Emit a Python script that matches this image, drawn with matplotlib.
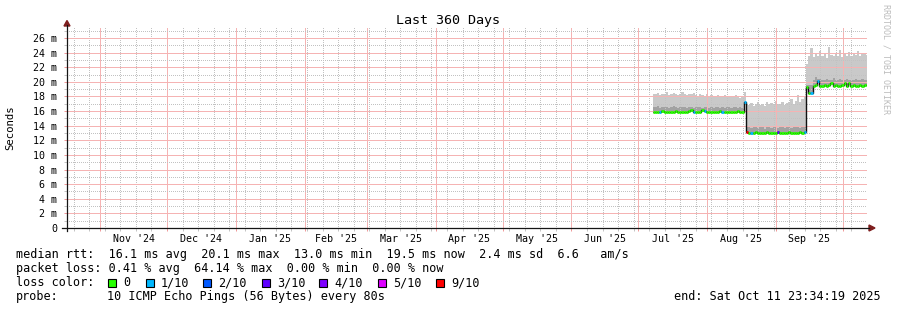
import datetime as dt
import numpy as np
import matplotlib
matplotlib.use("Agg")
import matplotlib.pyplot as plt
import matplotlib.dates as mdates
from matplotlib.lines import Line2D
from matplotlib.patches import Polygon, Rectangle

# ---------------- data ----------------
title = "Last 360 Days"
t_end = dt.datetime(2025, 10, 11, 23, 34, 19)
t_start = t_end - dt.timedelta(days=360)
data_start = dt.datetime(2025, 7, 7, 12, 0)   # one sample per day from here

# median rtt (ms)
med_seg1 = [15.9, 15.9, 15.85, 15.9, 15.95, 15.9, 15.9, 15.85, 15.9, 15.9, 15.95, 15.9, 15.85, 15.9,
            15.9, 15.9, 15.95, 16.2, 15.9, 15.85, 15.9, 15.9, 16.2, 15.95, 15.9, 15.9, 15.85, 15.9,
            15.9, 15.9, 15.95, 15.9, 15.9, 15.9, 15.85, 15.9, 15.9, 15.9, 15.95, 15.9, 15.9, 17.2]
med_seg2 = [13.1, 13.05, 13.0, 13.05, 13.1, 13.05, 13.0, 13.05, 13.05, 13.1, 13.0, 13.05, 13.05, 13.0,
            13.1, 13.05, 13.05, 13.0, 13.05, 13.1, 13.05, 13.0, 13.05, 13.05, 13.1, 13.05, 13.1]
med_seg3 = [19.3, 18.5, 18.5, 19.45, 19.5, 20.1, 19.45, 19.4, 19.5, 19.45, 19.5, 19.9, 19.45, 19.5,
            19.45, 19.4, 19.5, 19.9, 19.45, 19.9, 19.45, 19.5, 19.45, 19.4, 19.5, 19.45, 19.5, 19.5]

# upper edge of the darker smoke (ms)
mid_seg1 = [16.6, 16.5, 16.7, 16.4, 16.6, 16.5, 16.6, 16.4, 16.5, 16.7, 16.5, 16.4, 16.6, 16.5,
            16.6, 16.4, 16.5, 16.6, 16.4, 16.5, 16.5, 16.6, 16.4, 16.5, 16.6, 16.4, 16.5, 16.4,
            16.5, 16.6, 16.4, 16.5, 16.4, 16.6, 16.5, 16.4, 16.5, 16.6, 16.4, 16.5, 16.4, 17.3]
mid_seg2 = [13.9, 13.8, 13.7, 13.9, 13.8, 13.7, 13.9, 13.8, 13.6, 13.8, 13.9, 13.7, 13.8, 13.9,
            13.7, 13.8, 13.8, 13.7, 13.9, 13.8, 13.7, 13.9, 13.8, 13.8, 13.7, 13.9, 14.0]
mid_seg3 = [19.5, 19.6, 19.6, 20.3, 20.6, 20.4, 20.4, 20.3, 20.2, 20.4, 20.3, 20.2, 20.5, 20.3,
            20.2, 20.4, 20.3, 20.2, 20.4, 20.3, 20.3, 20.2, 20.4, 20.3, 20.2, 20.4, 20.3, 20.3]

# max ping (top of the smoke, ms)
top_seg1 = [18.4, 18.3, 18.5, 18.2, 18.4, 18.3, 18.6, 18.2, 18.3, 18.5, 18.4, 18.2, 18.3, 18.6,
            18.3, 18.2, 18.4, 18.3, 18.5, 18.2, 18.1, 18.3, 18.2, 18.0, 18.3, 18.1, 18.2, 17.9,
            18.0, 18.2, 18.1, 17.9, 18.2, 18.0, 18.1, 17.9, 18.0, 18.2, 18.1, 17.8, 18.0, 18.6]
top_seg2 = [17.0, 16.8, 17.1, 16.7, 16.9, 17.2, 16.8, 17.0, 16.7, 17.3, 16.9, 17.1, 16.8, 17.4,
            16.9, 17.0, 17.2, 16.8, 17.1, 17.3, 17.7, 17.0, 17.4, 18.2, 17.3, 17.6, 18.0]
top_seg3 = [22.5, 23.6, 24.6, 23.4, 23.8, 23.5, 24.2, 23.6, 23.9, 23.3, 24.7, 23.7, 23.5, 24.0,
            23.6, 24.3, 23.4, 23.8, 23.6, 24.1, 23.5, 23.9, 23.7, 24.2, 23.6, 23.8, 24.0, 23.7]

# lost pings out of 10
loss_seg1 = [0, 0, 0, 1, 0, 0, 0, 0, 0, 0, 0, 0, 0, 0, 0, 0, 0, 0, 1, 0, 0, 0, 0, 1, 0, 0, 0, 0,
             0, 0, 0, 1, 0, 0, 0, 0, 0, 0, 0, 0, 0, 1]
loss_seg2 = [9, 0, 1, 0, 0, 0, 0, 0, 0, 0, 0, 0, 0, 0, 3, 0, 0, 0, 0, 0, 0, 0, 0, 0, 0, 0, 1]
loss_seg3 = [0, 0, 1, 0, 0, 1, 0, 0, 0, 0, 0, 0, 0, 0, 0, 0, 0, 0, 0, 0, 0, 0, 0, 0, 0, 0, 0, 0]

loss_levels = [0, 1, 2, 3, 4, 5, 9]
loss_labels = ["0", "1/10", "2/10", "3/10", "4/10", "5/10", "9/10"]
loss_colors = ["#26ff00", "#00b8ff", "#0059ff", "#5e00ff", "#7e00ff", "#dd00ff", "#ff0000"]

y_ticks = list(range(0, 27, 2))
y_labels = ["0"] + [f"{v} m" for v in y_ticks[1:]]
month_starts = [dt.datetime(2024, m, 1) for m in (11, 12)] + \
               [dt.datetime(2025, m, 1) for m in range(1, 11)]
month_labels = ["Nov '24", "Dec '24", "Jan '25", "Feb '25", "Mar '25", "Apr '25",
                "May '25", "Jun '25", "Jul '25", "Aug '25", "Sep '25"]

stat_line1 = "median rtt:  16.1 ms avg  20.1 ms max  13.0 ms min  19.5 ms now  2.4 ms sd  6.6   am/s"
stat_line2 = "packet loss: 0.41 % avg  64.14 % max  0.00 % min  0.00 % now"
probe_text = "10 ICMP Echo Pings (56 Bytes) every 80s"

# ---------------- figure ----------------
W, H = 897, 310
MONO = "DejaVu Sans Mono"
plt.rcParams["font.family"] = MONO

fig = plt.figure(figsize=(W / 100, H / 100), dpi=100)
fig.patch.set_facecolor("white")


def fx(px):
    return px / W


def fy(py):
    return 1 - py / H


ax = fig.add_axes([fx(67), fy(228), 800 / W, 201 / H])
ax.set_facecolor("white")
ax.set_xlim(mdates.date2num(t_start), mdates.date2num(t_end))
ax.set_ylim(0, 27.5)
for s in ax.spines.values():
    s.set_visible(False)

med = np.array(med_seg1 + med_seg2 + med_seg3)
mid = np.array(mid_seg1 + mid_seg2 + mid_seg3)
top = np.array(top_seg1 + top_seg2 + top_seg3)
loss = np.array(loss_seg1 + loss_seg2 + loss_seg3)
n = len(med)
edges = mdates.date2num(data_start) + np.arange(n + 1)

# smoke
ax.stairs(top, edges, baseline=med - 0.1, fill=True, color="#c9c9c9", zorder=1)
ax.stairs(mid, edges, baseline=med - 0.1, fill=True, color="#a2a2a2", zorder=1.2)
# median: black step connections, then loss-colored segments
ax.stairs(med, edges, baseline=None, color="#111111", linewidth=1.0, zorder=3)
cmap = dict(zip(loss_levels, loss_colors))
seg_cols = [cmap.get(int(l), "#ff0000") for l in loss]
ax.hlines(med, edges[:-1], edges[1:], colors=seg_cols, linewidth=2.0, zorder=4)

# grid
ax.set_yticks(y_ticks)
ax.set_yticklabels(y_labels)
ax.set_yticks(np.arange(1, 28, 2), minor=True)
ax.set_xticks(mdates.date2num(month_starts))
ax.set_xticklabels([])
sundays = []
d = dt.datetime(2024, 10, 20)
while d < t_end:
    if d.day != 1:
        sundays.append(mdates.date2num(d))
    d += dt.timedelta(days=7)
ax.set_xticks(sundays, minor=True)
ax.set_axisbelow(False)
ax.grid(which="minor", color="#c2c2c2", linestyle=(0, (1, 2)), linewidth=0.72,
        zorder=2, antialiased=False)
ax.grid(which="major", color="#f5b3b3", linestyle=(0, (1, 1)), linewidth=0.72,
        zorder=2, antialiased=False)
ax.tick_params(which="both", direction="out", length=2.5, width=0.72)
ax.tick_params(which="major", color="#f09a9a", labelsize=7.2, pad=4.5, labelcolor="black")
ax.tick_params(which="minor", color="#c4c4c4")

# month labels centred in their month
trans = ax.get_xaxis_transform()
for i, lab in enumerate(month_labels):
    c = (mdates.date2num(month_starts[i]) + mdates.date2num(month_starts[i + 1])) / 2
    ax.text(c, -13.5 / 201, lab, transform=trans, ha="center", va="baseline",
            fontsize=7.2, family=MONO)

# axis lines + arrows
axis_col = "#151515"
arrow_col = "#7f1f1f"
fig.add_artist(Line2D([fx(62), fx(869)], [fy(228), fy(228)], color=axis_col, lw=0.9))
fig.add_artist(Line2D([fx(67), fx(67)], [fy(231), fy(25)], color=axis_col, lw=0.9))
fig.add_artist(Polygon([[fx(869), fy(225)], [fx(869), fy(231)], [fx(875), fy(228)]],
                       closed=True, color=arrow_col))
fig.add_artist(Polygon([[fx(64), fy(26)], [fx(70), fy(26)], [fx(67), fy(20.5)]],
                       closed=True, color=arrow_col))

# texts
fig.text(fx(448), fy(24), title, ha="center", va="baseline", fontsize=9.6, family=MONO)
fig.text(fx(10.5), fy(127.5), "Seconds", rotation=90, ha="center", va="center",
         fontsize=7.7, family=MONO)
fig.text(fx(886), fy(59), "RRDTOOL / TOBI OETIKER", rotation=270, ha="center", va="center",
         fontsize=6, color="#bcbcbc", family=MONO)

fs = 8.5
fig.text(fx(16), fy(258.3), stat_line1, ha="left", va="baseline", fontsize=fs)
fig.text(fx(16), fy(272), stat_line2, ha="left", va="baseline", fontsize=fs)
fig.text(fx(16), fy(286), "loss color:", ha="left", va="baseline", fontsize=fs)
box_x = [108, 146, 203, 262, 319, 378, 436]
for bx, lab, col in zip(box_x, loss_labels, loss_colors):
    fig.add_artist(Rectangle((fx(bx), fy(286.5)), 8 / W, 8 / H, facecolor=col,
                             edgecolor="black", linewidth=0.8))
    fig.text(fx(bx + 15), fy(286), lab, ha="left", va="baseline", fontsize=fs)
fig.text(fx(16), fy(300), "probe:", ha="left", va="baseline", fontsize=fs)
fig.text(fx(107), fy(300), probe_text, ha="left", va="baseline", fontsize=fs)
fig.text(fx(881), fy(300), "end: " + t_end.strftime("%a %b %d %H:%M:%S %Y"),
         ha="right", va="baseline", fontsize=fs)

fig.savefig("out.png", dpi=100, facecolor="white")
